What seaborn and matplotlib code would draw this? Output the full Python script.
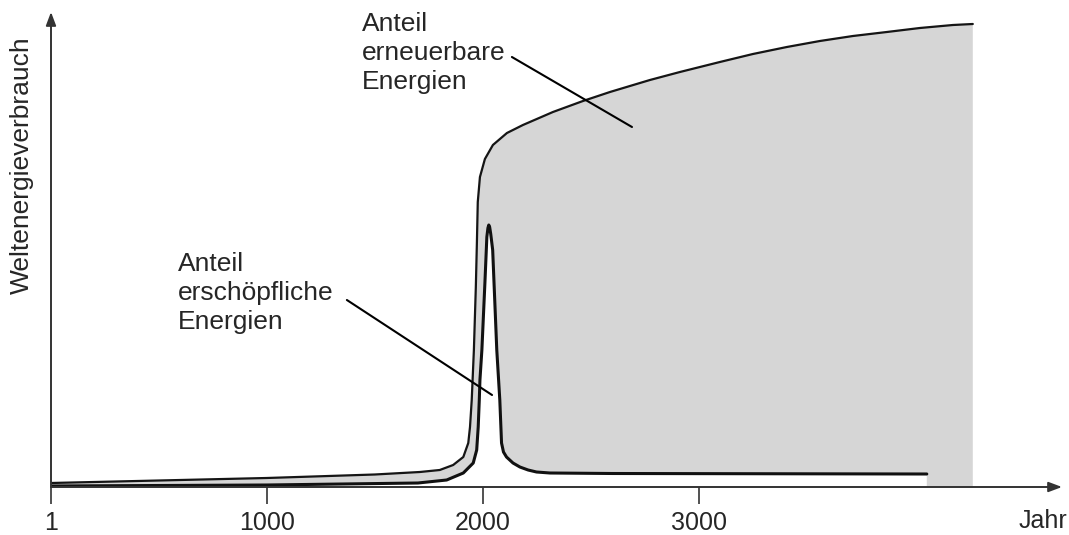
import numpy as np
import pandas as pd
import matplotlib
matplotlib.use("Agg")
import matplotlib.pyplot as plt
import seaborn as sns

# ---- data (year, relative world energy consumption) ----
total_years = [1, 500, 1000, 1500, 1709, 1801, 1863, 1910, 1933, 1941, 1949,
               1959, 1968, 1973, 1977, 1987, 2010, 2047, 2112, 2186, 2325,
               2464, 2589, 2774, 2913, 3098, 3251, 3408, 3561, 3714, 3871,
               4024, 4177, 4269]
total_vals = [4, 6.5, 9, 12.5, 15, 17, 22, 30, 44, 60, 87,
              137, 200, 245, 285, 310, 328, 342, 354, 362, 375,
              386, 395, 407, 415, 425, 433, 440, 446, 451, 455,
              459, 462, 463]

fossil_years = [1, 1000, 1700, 1833, 1910, 1956, 1972, 1979, 1984, 1987, 1996,
                2010, 2019, 2024, 2028, 2032, 2037, 2046, 2065, 2079, 2087,
                2096, 2110, 2140, 2172, 2210, 2249, 2311, 2600, 4056]
fossil_vals = [1, 2, 4, 7, 14, 24, 37, 60, 87, 107, 137,
               204, 250, 259, 262, 260, 253, 237, 137, 87, 44,
               35, 30, 24, 20, 17, 15, 14, 13.5, 13]

tick_years = [1, 1000, 2000, 3000]
tick_labels = ["1", "1000", "2000", "3000"]

# ---- style ----
sns.set_style("white")
plt.rcParams["font.family"] = ["Liberation Sans", "DejaVu Sans"]

W, H = 1069, 535
fig = plt.figure(figsize=(W / 100, H / 100), dpi=100)
ax = fig.add_axes([51 / W, (H - 487) / H, (1062 - 51) / W, (487 - 12) / H])
ax.set_xlim(1, 4682)
ax.set_ylim(0, 475)

# gray area: renewable share between fossil curve and total curve
poly_x = np.concatenate([total_years, [total_years[-1], fossil_years[-1]], fossil_years[::-1]])
poly_y = np.concatenate([total_vals, [0, 0], fossil_vals[::-1]])
ax.fill(poly_x, poly_y, color="#d6d6d6", lw=0, zorder=1)

df_total = pd.DataFrame({"Jahr": total_years, "Wert": total_vals})
df_fossil = pd.DataFrame({"Jahr": fossil_years, "Wert": fossil_vals})
sns.lineplot(data=df_total, x="Jahr", y="Wert", ax=ax, color="#151515", lw=1.6,
             sort=False, estimator=None, zorder=3, solid_joinstyle="round")
sns.lineplot(data=df_fossil, x="Jahr", y="Wert", ax=ax, color="#111111", lw=2.2,
             sort=False, estimator=None, zorder=3, solid_joinstyle="round")

# axes with arrows
for s in ax.spines.values():
    s.set_visible(False)
ax.annotate("", xy=(1, 0), xytext=(0, 0), xycoords="axes fraction",
            arrowprops=dict(arrowstyle="-|>,head_length=0.8,head_width=0.3",
                            color="#333333", lw=1.4, shrinkA=0, shrinkB=0), zorder=4)
ax.annotate("", xy=(0, 1), xytext=(0, 0), xycoords="axes fraction",
            arrowprops=dict(arrowstyle="-|>,head_length=0.8,head_width=0.3",
                            color="#333333", lw=1.4, shrinkA=0, shrinkB=0), zorder=4)

ax.set_xticks(tick_years)
ax.set_xticklabels(tick_labels)
ax.set_yticks([])
ax.tick_params(axis="x", direction="out", length=12, width=1.2, color="#333333",
               pad=5, labelsize=18, bottom=True)
ax.set_xlabel("")
ax.set_ylabel("")

fig.text(1067 / W, 1 - 521 / H, "Jahr", ha="right", va="center", fontsize=18)
fig.text(22 / W, 1 - 165 / H, "Weltenergieverbrauch", rotation=90,
         ha="center", va="center", fontsize=19)

# annotations
ax.text(589, 194, "Anteil\nerschöpfliche\nEnergien", ha="left", va="center",
        fontsize=19, linespacing=1.28)
ax.annotate("", xy=(2043, 92), xytext=(1371, 187),
            arrowprops=dict(arrowstyle="-", color="black", lw=1.5, shrinkA=0, shrinkB=0))
ax.text(1441, 434, "Anteil\nerneuerbare\nEnergien", ha="left", va="center",
        fontsize=19, linespacing=1.28)
ax.annotate("", xy=(2691, 360), xytext=(2135, 430),
            arrowprops=dict(arrowstyle="-", color="black", lw=1.5, shrinkA=0, shrinkB=0))

fig.savefig("out.png", dpi=100)
